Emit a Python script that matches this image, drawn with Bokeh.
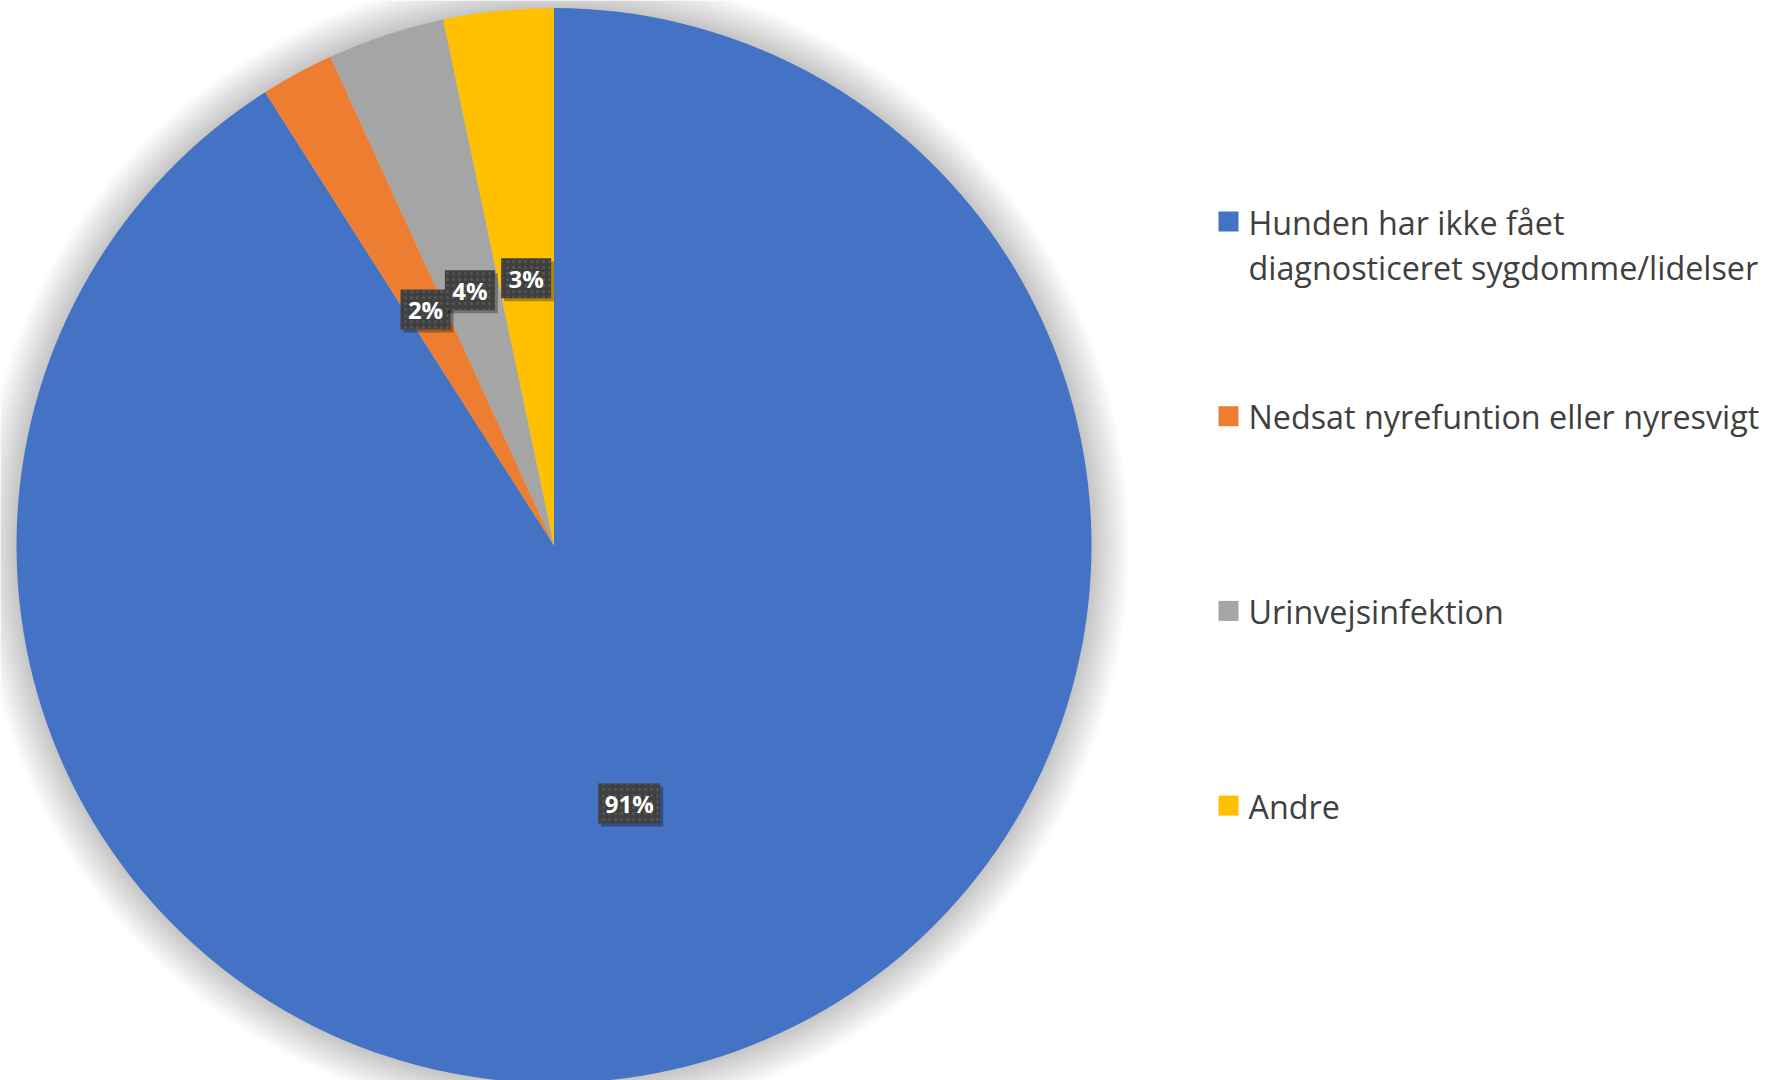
import numpy as np
from bokeh.plotting import figure
from bokeh.models import Range1d
from bokeh.core.properties import value
from bokeh.embed import file_html
from bokeh.resources import INLINE

# ---- data ----
categories = [
    "Hunden har ikke fået\ndiagnosticeret sygdomme/lidelser",
    "Nedsat nyrefuntion eller nyresvigt",
    "Urinvejsinfektion",
    "Andre",
]
counts = [413, 10, 16, 15]
colors = ["#4472C4", "#ED7D31", "#A5A5A5", "#FFC000"]

# ---- layout ----
W, H = 1776, 1080
p = figure(width=W, height=H, x_range=Range1d(0, W), y_range=Range1d(0, H),
           output_backend="svg", toolbar_location=None,
           x_axis_location=None, y_axis_location=None, min_border=0,
           outline_line_color=None, background_fill_color="white",
           border_fill_color="white")
p.grid.visible = False

cx, cy = 553.5, 535.0
R = 537.5

frac = np.array(counts, dtype=float) / sum(counts)
cum = np.concatenate([[0.0], np.cumsum(frac)])
start_ang = np.pi / 2 - 2 * np.pi * cum[1:]
end_ang = np.pi / 2 - 2 * np.pi * cum[:-1]

# soft shadow around pie
radii = [R + k for k in range(2, 40, 2)]
p.circle(x=[cx] * len(radii), y=[cy] * len(radii), radius=radii, radius_units="screen",
         fill_color="black", fill_alpha=0.010, line_color=None)

p.wedge(x=[cx] * len(counts), y=[cy] * len(counts), radius=R, radius_units="screen",
        start_angle=list(start_ang), end_angle=list(end_ang),
        fill_color=colors, line_color=None)

# data labels
mid = (cum[:-1] + cum[1:]) / 2
theta = 2 * np.pi * mid
lx = cx + 0.5 * R * np.sin(theta)
ly = cy + 0.5 * R * np.cos(theta)
labels = [f"{int(round(100 * f))}%" for f in frac]
bw = [26 + 12 * len(t) for t in labels]

for i in range(len(labels)):
    p.rect(x=[lx[i] + 3], y=[ly[i] - 3], width=[bw[i]], height=[40],
           fill_color="black", fill_alpha=0.3, line_color=None)
    p.rect(x=[lx[i]], y=[ly[i]], width=[bw[i]], height=[40],
           fill_color="#404040", line_color=None,
           hatch_pattern="dot", hatch_color="#555555", hatch_scale=6, hatch_weight=2)
    p.text(x=[lx[i]], y=[ly[i]], text=[labels[i]], text_align="center",
           text_baseline="middle", text_color="white",
           text_font=value("Open Sans"), text_font_style="bold", text_font_size="24px")

# legend
leg_sq_x, leg_tx_x = 1228, 1248
leg_y0, leg_dy, line_dy = 859, 194.7, 45
for i, cat in enumerate(categories):
    y = leg_y0 - i * leg_dy
    p.rect(x=[leg_sq_x], y=[y], width=[20], height=[20], fill_color=colors[i], line_color=None)
    lines = cat.split("\n")
    p.text(x=[leg_tx_x] * len(lines), y=[y - j * line_dy for j in range(len(lines))],
           text=lines, text_align="left", text_baseline="middle", text_color="#404040",
           text_font=value("Open Sans"), text_font_size="32.3px")

open("out.html", "w").write(file_html(p, INLINE))
